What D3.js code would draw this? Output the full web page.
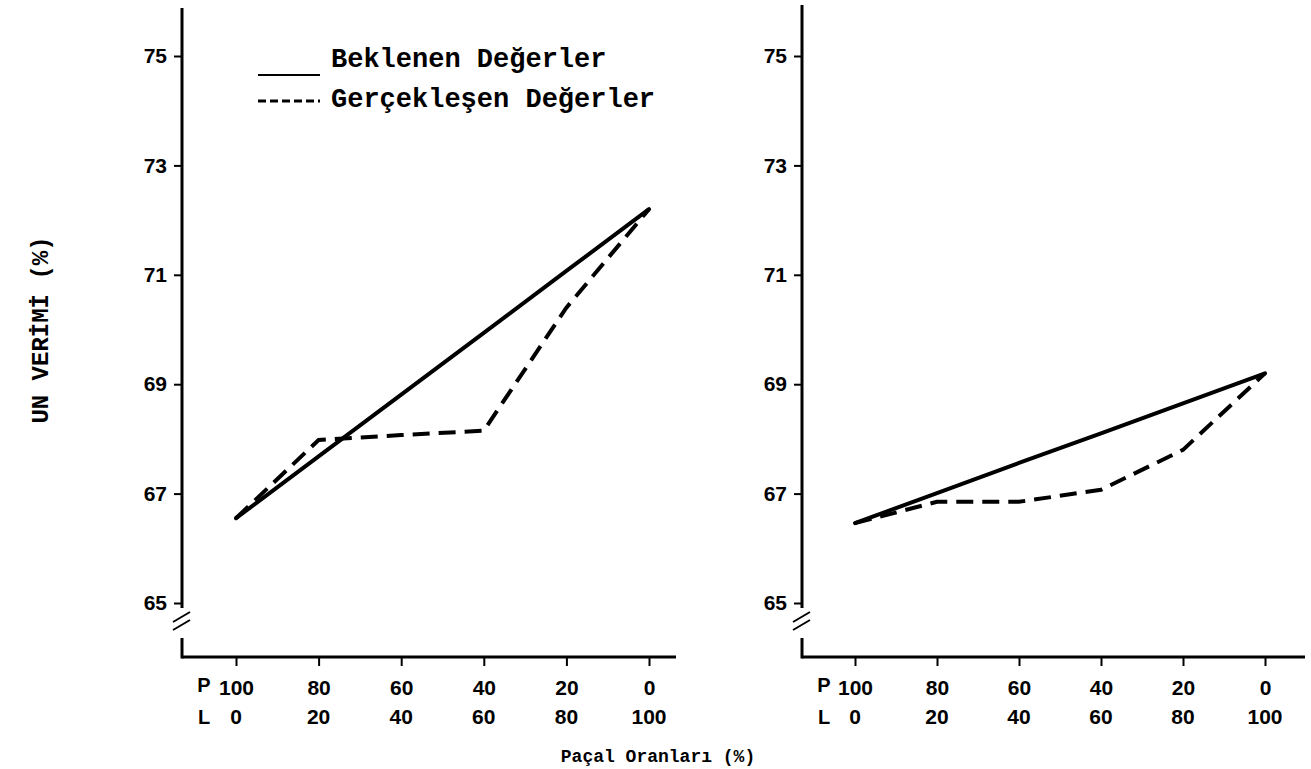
<!DOCTYPE html>
<html>
<head>
<meta charset="utf-8">
<script src="https://cdn.jsdelivr.net/npm/d3@7"></script>
<style>
  body { margin: 0; background: #fff; }
  .tick text { font-family: "Liberation Sans", Arial, sans-serif; font-weight: bold; font-size: 21px; fill: #000; }
  .mono { font-family: "Liberation Mono", "DejaVu Sans Mono", monospace; fill: #000; }
</style>
</head>
<body>
<svg id="chart" width="1311" height="769"></svg>
<script>
// data
var pValues = [100, 80, 60, 40, 20, 0];
var lValues = [0, 20, 40, 60, 80, 100];
var yTicks = [65, 67, 69, 71, 73, 75];
var leftExpected = [66.55, 67.68, 68.81, 69.94, 71.07, 72.2];
var leftActual = [66.55, 67.98, 68.07, 68.15, 70.4, 72.2];
var rightExpected = [66.46, 67.01, 67.56, 68.1, 68.65, 69.2];
var rightActual = [66.46, 66.85, 66.85, 67.07, 67.8, 69.2];
var legendLabels = ['Beklenen Değerler', 'Gerçekleşen Değerler'];

var svg = d3.select('#chart');

var y = d3.scaleLinear().domain([65, 75]).range([603, 56]);

function drawPanel(axisX, xRange, axisEnd, topY, expected, actual) {
    var x = d3.scaleLinear().domain([100, 0]).range(xRange);
    var g = svg.append('g');
    var baseY = 657;

    // y axis with break
    var ya = g.append('g').attr('transform', 'translate(' + axisX + ',0)')
        .call(d3.axisLeft(y).tickValues(yTicks).tickSize(8).tickPadding(7).tickFormat(d3.format('d')));
    ya.select('.domain').remove();
    ya.selectAll('.tick line').attr('stroke', '#000').attr('stroke-width', 2);
    g.append('line').attr('x1', axisX).attr('x2', axisX).attr('y1', topY).attr('y2', 608)
        .attr('stroke', '#000').attr('stroke-width', 3);
    g.append('line').attr('x1', axisX).attr('x2', axisX).attr('y1', 638).attr('y2', baseY + 1.5)
        .attr('stroke', '#000').attr('stroke-width', 3);
    [0, 8].forEach(function (o) {
        g.append('line').attr('x1', axisX - 9).attr('y1', 622 + o).attr('x2', axisX + 8).attr('y2', 612 + o)
            .attr('stroke', '#000').attr('stroke-width', 2);
    });

    // x axis
    var xa = g.append('g').attr('transform', 'translate(0,' + baseY + ')')
        .call(d3.axisBottom(x).tickValues(pValues).tickSize(9).tickPadding(14).tickFormat(d3.format('d')));
    xa.select('.domain').remove();
    xa.selectAll('.tick line').attr('stroke', '#000').attr('stroke-width', 2);
    g.append('line').attr('x1', axisX).attr('x2', axisEnd).attr('y1', baseY).attr('y2', baseY)
        .attr('stroke', '#000').attr('stroke-width', 3);

    // L row
    g.selectAll('.lrow').data(lValues).enter().append('text')
        .attr('x', function (d, i) { return x(pValues[i]); })
        .attr('y', 724)
        .attr('text-anchor', 'middle')
        .style('font-family', '"Liberation Sans", Arial, sans-serif')
        .style('font-weight', 'bold').style('font-size', '21px')
        .text(function (d) { return d; });
    g.append('text').attr('x', axisX + 22).attr('y', 692).attr('text-anchor', 'middle')
        .style('font-family', '"Liberation Sans", Arial, sans-serif').style('font-weight', 'bold').style('font-size', '20px')
        .text('P');
    g.append('text').attr('x', axisX + 22).attr('y', 724).attr('text-anchor', 'middle')
        .style('font-family', '"Liberation Sans", Arial, sans-serif').style('font-weight', 'bold').style('font-size', '20px')
        .text('L');

    var line = d3.line()
        .x(function (d, i) { return x(pValues[i]); })
        .y(function (d) { return y(d); });

    g.append('path').datum(expected).attr('d', line)
        .attr('fill', 'none').attr('stroke', '#000').attr('stroke-width', 4).attr('stroke-linecap', 'round');
    g.append('path').datum(actual).attr('d', line)
        .attr('fill', 'none').attr('stroke', '#000').attr('stroke-width', 4)
        .attr('stroke-dasharray', '17,9');
}

drawPanel(182, [236, 649], 676, 8, leftExpected, leftActual);
drawPanel(802, [855, 1265], 1305, 5, rightExpected, rightActual);

// legend
svg.append('line').attr('x1', 258).attr('x2', 320).attr('y1', 75).attr('y2', 75)
    .attr('stroke', '#000').attr('stroke-width', 2);
svg.append('line').attr('x1', 258).attr('x2', 320).attr('y1', 101).attr('y2', 101)
    .attr('stroke', '#000').attr('stroke-width', 3).attr('stroke-dasharray', '8,4');
svg.selectAll('.legend').data(legendLabels).enter().append('text')
    .attr('class', 'mono')
    .attr('x', 331)
    .attr('y', function (d, i) { return 67 + i * 40; })
    .style('font-size', '27px')
    .style('font-weight', 'bold')
    .text(function (d) { return d; });

// axis titles
svg.append('text').attr('class', 'mono')
    .attr('transform', 'translate(48,330) rotate(-90)')
    .attr('text-anchor', 'middle')
    .style('font-size', '24px').style('font-weight', 'bold')
    .text('UN VERİMİ (%)');
svg.append('text').attr('class', 'mono')
    .attr('x', 658).attr('y', 762)
    .attr('text-anchor', 'middle')
    .style('font-size', '18px').style('font-weight', 'bold')
    .text('Paçal Oranları (%)');
</script>
</body>
</html>
